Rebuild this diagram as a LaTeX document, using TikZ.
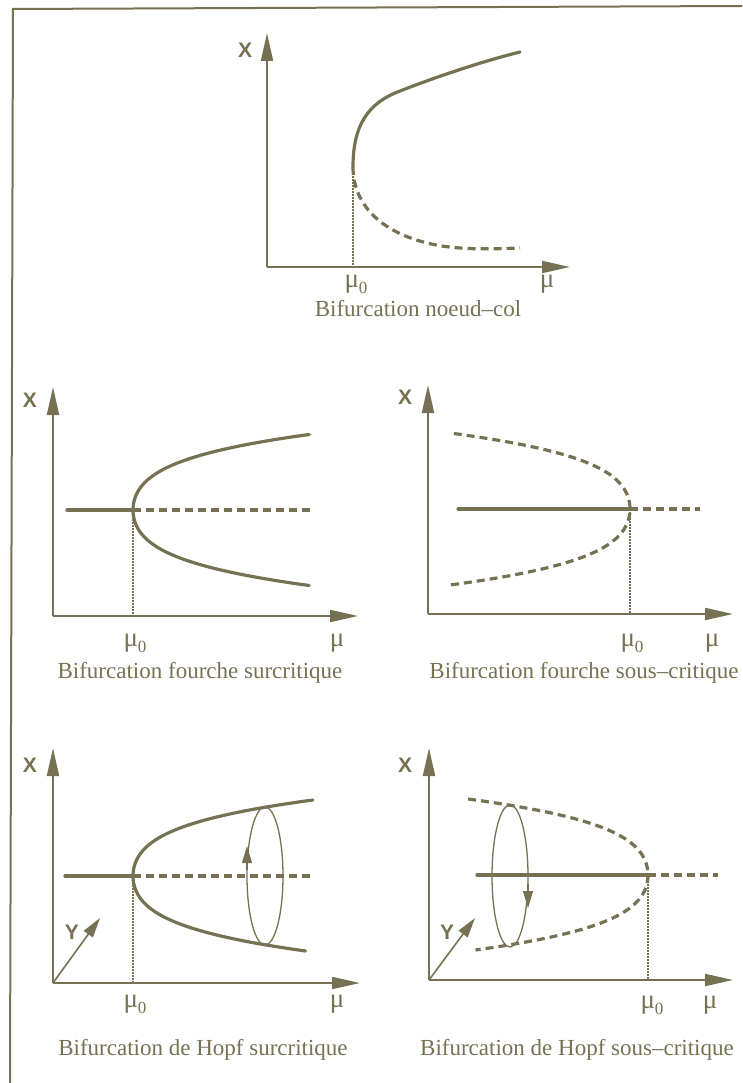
\documentclass[tikz,border=0pt]{standalone}
\usepackage{fontspec}
\setmainfont{Liberation Serif}
\newfontfamily\axfont{Liberation Sans}
\usetikzlibrary{arrows.meta}
\definecolor{ink}{RGB}{118,113,82}
\tikzset{
  ax/.style={ink,line width=2pt,-{Triangle[length=28pt,width=12pt]}},
  yax/.style={ink,line width=1.6pt,-{Triangle[length=20pt,width=11pt]}},
  sol/.style={ink,line width=3.2pt,line cap=round},
  dsh/.style={ink,line width=3.2pt,dash pattern=on 8pt off 5pt},
  dotl/.style={ink,line width=1.8pt,dash pattern=on 1.6pt off 1.4pt},
  ell/.style={ink,line width=1.3pt},
  cyc/.style={ink,line width=1.3pt,-{Triangle[length=17pt,width=10pt]}},
  axl/.style={ink,font=\axfont\bfseries\fontsize{21}{21}\selectfont,inner sep=0pt},
  mul/.style={ink,font=\fontsize{27}{27}\selectfont,inner sep=0pt},
  capt/.style={ink,font=\fontsize{23}{26}\selectfont,inner sep=0pt},
  frame/.style={ink,line width=2pt}
}
\newcommand{\muz}{μ\raisebox{-0.5ex}{\fontsize{17}{17}\selectfont 0}}
% pitchfork branch: mu offset as a function of t = (X offset)/10
\newcommand{\pf}[1]{(1.33*(#1)^2+0.0309*(#1)^4)}
\begin{document}
\begin{tikzpicture}[x=1pt,y=-1pt]
\useasboundingbox (0,0) rectangle (742,1083);
% frame
\coordinate (f1) at (742,6);
\coordinate (f2) at (13,9);
\coordinate (f3) at (10,1083);
\draw[frame] (f1) -- (f2) -- (f3);

% ---------- Panel 1: noeud-col ----------
\coordinate (o1) at (267,267);
\coordinate (y1) at (267,33);
\coordinate (x1) at (570,267);
\draw[ax] (o1) -- (y1);
\draw[ax] (o1) -- (x1);
\node[axl] (X1) at (245,50) {X};
\node[mul] (m01) at (356,284) {\muz};
\node[mul] (m1) at (547,284) {μ};
\node[capt] (c1) at (418,309) {Bifurcation noeud–col};
\coordinate (p1) at (353,167);
\coordinate (q1) at (353,267);
\draw[sol] (p1) .. controls (353,125) and (368,103) .. (400,91)
                .. controls (436,77) and (480,62) .. (520,52);
\draw[dsh] (p1) .. controls (353,200) and (375,230) .. (427,243)
                .. controls (457,250.5) and (490,249) .. (520,248);
\draw[dotl] (p1) -- (q1);

% ---------- Panel 2: fourche surcritique ----------
\coordinate (o2) at (53,616);
\coordinate (y2) at (53,387);
\coordinate (x2) at (358,616);
\draw[ax] (o2) -- (y2);
\draw[ax] (o2) -- (x2);
\node[axl] (X2) at (30,400) {X};
\node[mul] (m02) at (135,643) {\muz};
\node[mul] (m2) at (337,643) {μ};
\node[capt] (c2) at (200,673) {Bifurcation fourche surcritique};
\coordinate (p2) at (133,510);
\coordinate (s2) at (67,510);
\coordinate (e2) at (310,510);
\coordinate (q2) at (133,616);
\draw[sol] (s2) -- (p2);
\draw[dsh] (p2) -- (e2);
\draw[sol] plot[domain=-7.55:7.55,samples=81,smooth] ({133+\pf{\x}},{510+10*\x});
\draw[dotl] (p2) -- (q2);

% ---------- Panel 3: fourche sous-critique ----------
\coordinate (o3) at (428,614);
\coordinate (y3) at (428,385);
\coordinate (x3) at (733,614);
\draw[ax] (o3) -- (y3);
\draw[ax] (o3) -- (x3);
\node[axl] (X3) at (405,397) {X};
\node[mul] (m03) at (632,643) {\muz};
\node[mul] (m3) at (712,643) {μ};
\node[capt] (c3) at (584,673) {Bifurcation fourche sous–critique};
\coordinate (p3) at (630,509);
\coordinate (s3) at (458,509);
\coordinate (e3) at (700,509);
\coordinate (q3) at (630,614);
\draw[sol] (s3) -- (p3);
\draw[dsh] (p3) -- (e3);
\draw[dsh] plot[domain=-7.55:7.6,samples=81,smooth] ({630-\pf{\x}},{509+10*\x});
\draw[dotl] (p3) -- (q3);

% ---------- Panel 4: Hopf surcritique ----------
\coordinate (o4) at (53,983);
\coordinate (y4) at (53,748);
\coordinate (x4) at (360,983);
\coordinate (z4) at (100,918);
\draw[ax] (o4) -- (y4);
\draw[ax] (o4) -- (x4);
\draw[yax] (o4) -- (z4);
\node[axl] (X4) at (30,765) {X};
\node[axl] (Y4) at (72,932) {Y};
\node[mul] (m04) at (135,1004) {\muz};
\node[mul] (m4) at (337,1004) {μ};
\node[capt] (c4) at (203,1050) {Bifurcation de Hopf surcritique};
\coordinate (p4) at (133,876);
\coordinate (s4) at (65,876);
\coordinate (e4) at (310,876);
\coordinate (q4) at (133,983);
\draw[sol] (s4) -- (p4);
\draw[dsh] (p4) -- (e4);
\draw[sol] plot[domain=-7.6:7.5,samples=81,smooth] ({133+\pf{\x}},{876+10*\x});
\draw[dotl] (p4) -- (q4);
\coordinate (lc4) at (265,876);
\draw[ell] (lc4) ellipse [x radius=18, y radius=69];
\coordinate (a4s) at (247,870);
\coordinate (a4e) at (247,846);
\draw[cyc] (a4s) -- (a4e);

% ---------- Panel 5: Hopf sous-critique ----------
\coordinate (o5) at (429,980);
\coordinate (y5) at (429,748);
\coordinate (x5) at (733,980);
\coordinate (z5) at (475,918);
\draw[ax] (o5) -- (y5);
\draw[ax] (o5) -- (x5);
\draw[yax] (o5) -- (z5);
\node[axl] (X5) at (405,765) {X};
\node[axl] (Y5) at (447,932) {Y};
\node[mul] (m05) at (652,1005) {\muz};
\node[mul] (m5) at (710,1005) {μ};
\node[capt] (c5) at (577,1050) {Bifurcation de Hopf sous–critique};
\coordinate (p5) at (648,875);
\coordinate (s5) at (477,875);
\coordinate (e5) at (718,875);
\coordinate (q5) at (648,980);
\draw[sol] (s5) -- (p5);
\draw[dsh] (p5) -- (e5);
\draw[dsh] plot[domain=-7.6:7.5,samples=81,smooth] ({648-\pf{\x}},{875+10*\x});
\draw[dotl] (p5) -- (q5);
\coordinate (lc5) at (510,876);
\draw[ell] (lc5) ellipse [x radius=18, y radius=71];
\coordinate (a5s) at (528,884);
\coordinate (a5e) at (528,908);
\draw[cyc] (a5s) -- (a5e);
\end{tikzpicture}
\end{document}
